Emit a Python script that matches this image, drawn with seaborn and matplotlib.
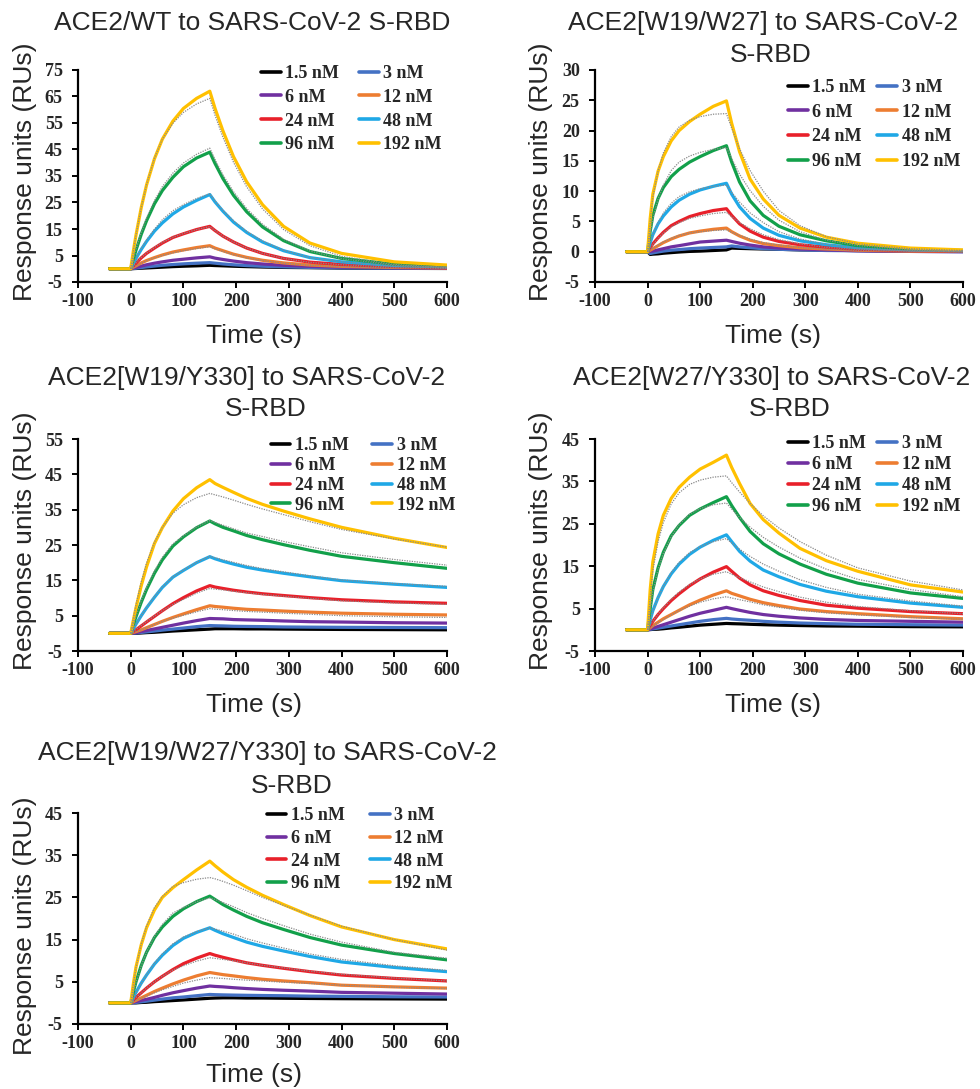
import matplotlib
matplotlib.use("Agg")
import pandas as pd
import matplotlib.pyplot as plt
import seaborn as sns

# ---- data (response units) ----
TIME = [-40, 0, 5, 10, 20, 30, 45, 60, 80, 100, 125, 150,
        160, 175, 195, 220, 250, 290, 340, 400, 500, 600]
FIT_TIME = TIME[1:]

CONCS = ["1.5 nM", "3 nM", "6 nM", "12 nM", "24 nM", "48 nM", "96 nM", "192 nM"]
FIT_CONCS = CONCS[3:]
COLORS = ["#000000", "#4472C4", "#7030A0", "#ED7D31", "#E8202A", "#1FA8E6", "#12A04A", "#FFC000"]

WT_RU = [
    [0, 0, 0.05, 0.1, 0.2, 0.3, 0.45, 0.6, 0.8, 0.95, 1.1, 1.3, 1.2, 1.1, 0.95, 0.8, 0.65, 0.5, 0.4, 0.25, 0.15, 0.1],
    [0, 0, 0.1, 0.2, 0.45, 0.7, 1.0, 1.3, 1.6, 1.85, 2.1, 2.3, 2.1, 1.8, 1.5, 1.2, 0.95, 0.7, 0.5, 0.35, 0.2, 0.15],
    [0, 0, 0.25, 0.5, 1.0, 1.5, 2.1, 2.6, 3.2, 3.6, 4.1, 4.5, 4.0, 3.5, 2.9, 2.3, 1.8, 1.3, 0.9, 0.6, 0.35, 0.2],
    [0, 0, 0.6, 1.1, 2.2, 3.1, 4.2, 5.2, 6.3, 7.1, 8.0, 8.7, 7.8, 6.8, 5.5, 4.3, 3.2, 2.2, 1.4, 0.9, 0.5, 0.3],
    [0, 0, 1.1, 2.1, 4.1, 5.8, 7.8, 9.7, 11.8, 13.2, 14.8, 16.0, 14.4, 12.3, 10.1, 7.8, 5.8, 3.9, 2.5, 1.6, 0.8, 0.4],
    [0, 0, 2.0, 3.9, 7.3, 10.3, 14.2, 17.3, 20.7, 23.3, 25.8, 28.0, 25.2, 21.7, 17.6, 13.7, 10.1, 6.8, 4.2, 2.6, 1.2, 0.7],
    [0, 0, 3.7, 7.0, 13.0, 18.1, 24.5, 29.5, 34.5, 38.5, 41.8, 44.0, 39.7, 34.0, 27.7, 21.5, 15.8, 10.6, 6.5, 3.9, 1.7, 0.9],
    [0, 0, 6.7, 12.7, 23.1, 31.6, 41.5, 48.9, 55.7, 60.5, 64.3, 67.0, 60.5, 52.0, 42.3, 32.8, 24.2, 16.0, 9.7, 5.8, 2.6, 1.4],
]
WT_FIT = [
    [0, 0.55, 1.1, 2.1, 3.0, 4.1, 5.0, 6.0, 6.8, 7.6, 8.3, 7.5, 6.5, 5.3, 4.1, 3.1, 2.1, 1.3, 0.8, 0.3, 0.15],
    [0, 1.1, 2.2, 4.2, 5.9, 8.0, 9.9, 11.9, 13.3, 14.8, 15.9, 14.4, 12.3, 10.1, 7.8, 5.8, 3.9, 2.4, 1.5, 0.6, 0.3],
    [0, 2.1, 4.1, 7.6, 10.8, 14.9, 18.5, 21.9, 24.2, 26.5, 28.3, 25.6, 22.0, 18.1, 14.1, 10.5, 7.0, 4.2, 2.6, 1.1, 0.5],
    [0, 3.9, 7.4, 13.7, 19.1, 25.7, 31.0, 36.1, 39.9, 43.2, 45.5, 41.2, 35.4, 29.1, 22.7, 16.8, 11.1, 6.7, 3.8, 1.4, 0.5],
    [0, 6.7, 12.7, 23.1, 31.7, 41.7, 48.9, 54.9, 59.0, 62.2, 64.3, 57.9, 49.6, 40.2, 30.9, 22.6, 14.8, 8.7, 4.7, 1.6, 0.6],
]

W19W27_RU = [
    [0, 0, -0.45, -0.4, -0.35, -0.25, -0.15, -0.05, 0.05, 0.1, 0.2, 0.3, 0.6, 0.55, 0.5, 0.45, 0.4, 0.3, 0.25, 0.2, 0.1, 0.05],
    [0, 0, -0.3, -0.2, -0.05, 0.1, 0.25, 0.35, 0.5, 0.6, 0.7, 0.8, 0.95, 0.8, 0.65, 0.5, 0.4, 0.3, 0.2, 0.15, 0.05, 0.0],
    [0, 0, 0.05, 0.1, 0.3, 0.5, 0.8, 1.0, 1.3, 1.6, 1.75, 1.9, 1.7, 1.4, 1.1, 0.8, 0.6, 0.45, 0.3, 0.15, 0.05, 0.0],
    [0, 0, 0.25, 0.5, 1.0, 1.5, 2.1, 2.6, 3.1, 3.4, 3.7, 3.9, 3.3, 2.6, 1.9, 1.35, 1.0, 0.65, 0.45, 0.25, 0.1, 0.05],
    [0, 0, 0.7, 1.3, 2.3, 3.2, 4.3, 5.0, 5.8, 6.3, 6.8, 7.1, 6.0, 4.6, 3.4, 2.4, 1.7, 1.15, 0.75, 0.4, 0.2, 0.1],
    [0, 0, 1.5, 2.8, 4.6, 5.9, 7.4, 8.5, 9.5, 10.2, 10.8, 11.3, 9.5, 7.4, 5.5, 3.9, 2.7, 1.8, 1.15, 0.65, 0.3, 0.15],
    [0, 0, 3.4, 6.0, 8.8, 10.6, 12.4, 13.6, 14.8, 15.7, 16.7, 17.5, 14.8, 11.5, 8.4, 6.0, 4.2, 2.8, 1.8, 1.0, 0.45, 0.2],
    [0, 0, 5.5, 9.5, 13.3, 15.7, 18.3, 20.0, 21.5, 22.7, 24.0, 24.9, 21.2, 16.5, 12.0, 8.7, 6.0, 3.9, 2.4, 1.4, 0.6, 0.3],
]
W19W27_FIT = [
    [0, 0.3, 0.6, 1.1, 1.6, 2.2, 2.7, 3.1, 3.3, 3.5, 3.6, 3.2, 2.7, 2.1, 1.5, 1.1, 0.7, 0.4, 0.2, 0.1, 0.0],
    [0, 0.6, 1.2, 2.2, 3.1, 4.1, 4.8, 5.5, 5.9, 6.3, 6.5, 5.8, 4.8, 3.8, 2.8, 2.0, 1.3, 0.7, 0.4, 0.1, 0.05],
    [0, 1.5, 2.8, 4.8, 6.4, 8.0, 9.1, 9.9, 10.4, 10.8, 11.0, 9.8, 8.2, 6.4, 4.8, 3.3, 2.1, 1.2, 0.6, 0.2, 0.1],
    [0, 3.0, 5.5, 8.7, 11.0, 13.4, 14.8, 15.8, 16.4, 16.9, 17.2, 15.4, 12.8, 10.1, 7.5, 5.2, 3.3, 1.9, 1.0, 0.35, 0.1],
    [0, 5.0, 9.0, 13.3, 16.3, 19.0, 20.6, 21.7, 22.3, 22.7, 22.8, 20.4, 17.0, 13.4, 10.0, 6.8, 4.3, 2.5, 1.3, 0.5, 0.2],
]

W19Y330_RU = [
    [0, 0, 0.0, 0.0, 0.1, 0.2, 0.3, 0.45, 0.65, 0.8, 1.0, 1.2, 1.3, 1.3, 1.3, 1.25, 1.25, 1.2, 1.15, 1.1, 1.05, 1.0],
    [0, 0, 0.05, 0.1, 0.25, 0.4, 0.65, 0.9, 1.2, 1.5, 1.9, 2.2, 2.15, 2.1, 2.0, 1.95, 1.9, 1.8, 1.75, 1.7, 1.65, 1.6],
    [0, 0, 0.1, 0.2, 0.5, 0.8, 1.25, 1.7, 2.3, 2.9, 3.6, 4.2, 4.15, 4.1, 3.9, 3.8, 3.7, 3.5, 3.3, 3.2, 3.0, 2.9],
    [0, 0, 0.25, 0.5, 1.0, 1.6, 2.5, 3.4, 4.5, 5.5, 6.7, 7.8, 7.6, 7.4, 7.1, 6.8, 6.6, 6.3, 6.0, 5.7, 5.4, 5.2],
    [0, 0, 0.5, 1.0, 2.1, 3.2, 4.8, 6.4, 8.4, 10.1, 12.0, 13.5, 13.1, 12.7, 12.2, 11.7, 11.2, 10.7, 10.1, 9.5, 8.9, 8.5],
    [0, 0, 1.3, 2.6, 5.0, 7.2, 10.2, 13.0, 15.9, 17.8, 20.0, 21.7, 21.1, 20.4, 19.6, 18.7, 17.9, 17.0, 16.0, 14.9, 13.9, 13.0],
    [0, 0, 2.5, 4.7, 8.8, 12.4, 17.0, 20.8, 24.7, 27.3, 29.9, 31.8, 31.0, 30.0, 29.0, 27.7, 26.5, 25.1, 23.5, 21.8, 20.0, 18.4],
    [0, 0, 3.7, 7.2, 13.5, 18.8, 25.4, 29.9, 34.6, 38.1, 41.2, 43.5, 42.4, 41.3, 39.9, 38.2, 36.5, 34.6, 32.4, 30.0, 26.9, 24.3],
]
W19Y330_FIT = [
    [0, 0.25, 0.5, 1.0, 1.6, 2.5, 3.3, 4.3, 5.1, 6.1, 7.0, 6.85, 6.7, 6.45, 6.2, 6.0, 5.7, 5.4, 5.0, 4.7, 4.5],
    [0, 0.55, 1.1, 2.2, 3.3, 4.9, 6.4, 8.2, 9.6, 11.4, 12.7, 12.5, 12.3, 11.9, 11.5, 11.0, 10.5, 9.9, 9.2, 8.6, 8.2],
    [0, 1.3, 2.6, 5.0, 7.3, 10.4, 13.1, 16.0, 17.9, 20.1, 21.8, 21.4, 20.8, 20.1, 19.2, 18.3, 17.4, 16.3, 15.1, 14.1, 13.3],
    [0, 2.6, 4.9, 9.2, 12.9, 17.6, 21.5, 25.3, 27.6, 30.1, 31.9, 31.4, 30.6, 29.6, 28.4, 27.4, 26.0, 24.5, 22.8, 20.9, 19.3],
    [0, 4.3, 8.1, 14.6, 19.9, 25.8, 30.0, 34.0, 36.4, 38.4, 39.6, 39.2, 38.6, 37.7, 36.5, 35.2, 33.6, 31.6, 29.4, 26.7, 24.4],
]

W27Y330_RU = [
    [0, 0, 0.05, 0.1, 0.15, 0.25, 0.45, 0.6, 0.85, 1.1, 1.3, 1.5, 1.45, 1.4, 1.3, 1.2, 1.1, 1.0, 0.9, 0.85, 0.75, 0.7],
    [0, 0, 0.1, 0.2, 0.4, 0.6, 0.9, 1.2, 1.6, 2.0, 2.4, 2.7, 2.55, 2.4, 2.25, 2.0, 1.8, 1.6, 1.45, 1.3, 1.2, 1.1],
    [0, 0, 0.2, 0.4, 0.8, 1.2, 1.8, 2.4, 3.2, 3.9, 4.6, 5.3, 5.0, 4.6, 4.1, 3.6, 3.2, 2.8, 2.45, 2.2, 2.0, 1.8],
    [0, 0, 0.5, 1.0, 1.8, 2.6, 3.6, 4.6, 5.9, 7.0, 8.2, 9.2, 8.6, 8.0, 7.2, 6.4, 5.7, 4.9, 4.3, 3.8, 3.1, 2.6],
    [0, 0, 1.0, 2.0, 3.6, 5.0, 6.9, 8.5, 10.4, 12.0, 13.6, 14.9, 13.8, 12.2, 10.6, 9.2, 8.1, 6.9, 5.8, 5.1, 4.3, 3.8],
    [0, 0, 2.3, 4.5, 7.6, 10.2, 13.2, 15.5, 17.8, 19.5, 21.1, 22.4, 20.8, 18.5, 16.2, 14.1, 12.5, 10.7, 9.1, 7.8, 6.3, 5.3],
    [0, 0, 5.0, 9.5, 14.6, 18.3, 22.2, 24.6, 27.0, 28.5, 30.0, 31.4, 29.3, 26.5, 23.2, 20.3, 17.9, 15.5, 13.1, 11.0, 8.7, 7.4],
    [0, 0, 9.5, 16.0, 22.6, 27.0, 31.0, 33.6, 36.0, 37.9, 39.5, 41.2, 38.3, 34.5, 29.8, 26.0, 22.8, 19.2, 16.3, 13.8, 10.6, 8.9],
]
W27Y330_FIT = [
    [0, 0.45, 0.9, 1.7, 2.4, 3.5, 4.5, 5.6, 6.5, 7.3, 7.8, 7.5, 7.1, 6.6, 5.9, 5.3, 4.6, 4.0, 3.5, 2.9, 2.5],
    [0, 1.0, 2.0, 3.7, 5.2, 7.2, 8.9, 10.7, 12.0, 13.1, 13.7, 13.1, 12.3, 11.3, 10.1, 9.0, 7.7, 6.5, 5.5, 4.5, 3.8],
    [0, 2.2, 4.3, 7.6, 10.3, 13.5, 15.9, 18.2, 19.6, 20.8, 21.5, 20.5, 19.0, 17.3, 15.5, 13.8, 11.8, 10.0, 8.4, 6.8, 5.6],
    [0, 4.8, 9.0, 14.3, 18.0, 22.0, 24.8, 27.3, 28.6, 29.5, 29.9, 28.5, 26.5, 24.2, 21.8, 19.5, 16.9, 14.3, 11.9, 9.5, 7.8],
    [0, 7.8, 14.0, 20.8, 25.3, 29.7, 32.3, 34.3, 35.3, 36.0, 36.3, 34.7, 32.5, 29.8, 26.9, 24.0, 20.8, 17.6, 14.6, 11.5, 9.4],
]

TRIPLE_RU = [
    [0, 0, 0.0, 0.0, 0.1, 0.15, 0.3, 0.4, 0.55, 0.7, 0.9, 1.1, 1.15, 1.2, 1.2, 1.15, 1.15, 1.1, 1.05, 1.0, 0.95, 0.9],
    [0, 0, 0.05, 0.1, 0.25, 0.4, 0.65, 0.9, 1.2, 1.4, 1.7, 2.0, 1.95, 1.9, 1.85, 1.8, 1.75, 1.7, 1.6, 1.55, 1.45, 1.4],
    [0, 0, 0.15, 0.3, 0.6, 0.85, 1.3, 1.8, 2.4, 2.9, 3.5, 4.0, 3.9, 3.8, 3.6, 3.4, 3.2, 3.0, 2.8, 2.5, 2.3, 2.1],
    [0, 0, 0.3, 0.6, 1.2, 1.8, 2.7, 3.5, 4.5, 5.4, 6.4, 7.2, 7.0, 6.7, 6.4, 6.0, 5.6, 5.2, 4.8, 4.2, 3.8, 3.5],
    [0, 0, 0.65, 1.3, 2.4, 3.5, 5.0, 6.3, 7.9, 9.3, 10.6, 11.7, 11.3, 10.8, 10.2, 9.5, 8.9, 8.2, 7.4, 6.6, 5.8, 5.2],
    [0, 0, 1.3, 2.5, 4.7, 6.6, 9.2, 11.3, 13.6, 15.3, 16.7, 17.8, 17.2, 16.4, 15.5, 14.4, 13.4, 12.3, 11.0, 9.7, 8.4, 7.4],
    [0, 0, 2.6, 5.0, 8.9, 12.0, 15.5, 18.0, 20.5, 22.3, 24.0, 25.3, 24.5, 23.3, 22.0, 20.5, 19.0, 17.4, 15.5, 13.7, 11.7, 10.2],
    [0, 0, 4.5, 8.5, 13.8, 17.8, 22.0, 25.0, 27.3, 29.2, 31.5, 33.6, 32.5, 31.0, 29.2, 27.4, 25.5, 23.3, 20.7, 18.0, 15.0, 12.8],
]
TRIPLE_FIT = [
    [0, 0.3, 0.6, 1.1, 1.6, 2.4, 3.1, 3.9, 4.7, 5.4, 6.0, 5.9, 5.8, 5.6, 5.4, 5.2, 4.9, 4.6, 4.2, 3.7, 3.4],
    [0, 0.65, 1.3, 2.4, 3.5, 5.0, 6.3, 7.8, 8.8, 9.9, 10.7, 10.55, 10.3, 10.0, 9.5, 8.9, 8.3, 7.5, 6.8, 5.9, 5.2],
    [0, 1.2, 2.4, 4.6, 6.7, 9.4, 11.6, 14.0, 15.6, 16.9, 17.8, 17.5, 17.0, 16.3, 15.2, 14.2, 13.0, 11.6, 10.3, 8.8, 7.7],
    [0, 2.5, 4.8, 8.8, 12.0, 15.8, 18.6, 21.3, 22.6, 24.0, 24.9, 24.5, 23.8, 22.8, 21.4, 20.0, 18.3, 16.3, 14.4, 12.0, 10.6],
    [0, 4.4, 8.3, 14.0, 18.2, 22.6, 25.2, 27.6, 28.5, 29.3, 29.7, 29.4, 28.8, 27.9, 26.6, 25.0, 23.1, 20.8, 18.2, 15.0, 12.5],
]

# ---- layout (pixel boxes measured on the 980x1089 page) ----
W, H = 980, 1089
PANELS = [
    dict(ru=WT_RU, fit=WT_FIT, box=(78, 70, 447, 282), yticks=range(-5, 76, 10),
         title=[("ACE2/WT to SARS-CoV-2 S-RBD", 252, 30)],
         xlab=(254, 343), ylab=(25, 172), leg=(0.986, 1.024, 0.38, 1.1)),
    dict(ru=W19W27_RU, fit=W19W27_FIT, box=(595, 70, 963, 282), yticks=range(-5, 31, 5),
         title=[("ACE2[W19/W27] to SARS-CoV-2", 763, 30), ("S-RBD", 771, 62)],
         xlab=(773, 343), ylab=(541, 172), leg=(0.992, 0.958, 0.43, 0.6)),
    dict(ru=W19Y330_RU, fit=W19Y330_FIT, box=(78, 439, 447, 651), yticks=range(-5, 56, 10),
         title=[("ACE2[W19/Y330] to SARS-CoV-2", 247, 385), ("S-RBD", 266, 416)],
         xlab=(254, 712), ylab=(25, 541), leg=(1.022, 1.009, 0.16, 1.3)),
    dict(ru=W27Y330_RU, fit=W27Y330_FIT, box=(595, 439, 963, 651), yticks=range(-5, 46, 10),
         title=[("ACE2[W27/Y330] to SARS-CoV-2", 772, 385), ("S-RBD", 790, 416)],
         xlab=(773, 712), ylab=(541, 541), leg=(0.992, 1.019, 0.23, 0.6)),
    dict(ru=TRIPLE_RU, fit=TRIPLE_FIT, box=(78, 813, 447, 1024), yticks=range(-5, 46, 10),
         title=[("ACE2[W19/W27/Y330] to SARS-CoV-2", 267, 760), ("S-RBD", 292, 793)],
         xlab=(254, 1082), ylab=(25, 926), leg=(1.016, 1.028, 0.32, 1.4)),
]


def long_frame(times, curves, labels):
    rows = []
    for lab, vals in zip(labels, curves):
        for t, v in zip(times, vals):
            rows.append({"time": t, "ru": v, "conc": lab})
    return pd.DataFrame(rows)


sns.set_theme(style="white")
plt.rcParams["font.family"] = ["Liberation Sans", "DejaVu Sans"]
plt.rcParams["axes.unicode_minus"] = False

fig = plt.figure(figsize=(W / 100, H / 100), dpi=100)
palette = dict(zip(CONCS, COLORS))

for p in PANELS:
    l, t, r, b = p["box"]
    ax = fig.add_axes([l / W, 1 - b / H, (r - l) / W, (b - t) / H])

    df = long_frame(TIME, p["ru"], CONCS)
    sns.lineplot(data=df, x="time", y="ru", hue="conc", hue_order=CONCS, palette=palette,
                 estimator=None, sort=False, lw=2.3, ax=ax)
    fit_df = long_frame(FIT_TIME, p["fit"], FIT_CONCS)
    sns.lineplot(data=fit_df, x="time", y="ru", units="conc", estimator=None, sort=False,
                 color="#8a8a8a", lw=0.9, linestyle=(0, (1, 1)), legend=False, ax=ax, zorder=3)

    yt = list(p["yticks"])
    ax.set_xlim(-100, 600)
    ax.set_ylim(yt[0], yt[-1])
    ax.set_xticks(range(-100, 601, 100))
    ax.set_yticks(yt)
    ax.set_xlabel("")
    ax.set_ylabel("")
    for s in ["top", "right"]:
        ax.spines[s].set_visible(False)
    for s in ["left", "bottom"]:
        ax.spines[s].set_linewidth(1.6)
        ax.spines[s].set_color("black")
    ax.tick_params(axis="both", direction="out", length=4, width=1.4, color="black",
                   labelsize=13, bottom=True, left=True)
    ax.tick_params(axis="y", pad=7)
    ax.tick_params(axis="x", pad=4)
    for lab in ax.get_xticklabels() + ax.get_yticklabels():
        lab.set_fontfamily("Liberation Serif")
        lab.set_fontweight("bold")

    # legend: rows read 1.5/3, 6/12, 24/48, 96/192
    handles, labels = ax.get_legend_handles_labels()
    order = [0, 2, 4, 6, 1, 3, 5, 7]
    lx, ly, lsp, csp = p["leg"]
    leg = ax.legend([handles[i] for i in order], [labels[i] for i in order], ncol=2,
                    loc="upper right", bbox_to_anchor=(lx, ly), frameon=False,
                    borderaxespad=0, borderpad=0, handlelength=1.1, handletextpad=0.25,
                    labelspacing=lsp, columnspacing=csp,
                    prop={"family": "Liberation Serif", "weight": "bold", "size": 13})
    for h in leg.get_lines():
        h.set_linewidth(2.6)

    for txt, x, y in p["title"]:
        fig.text(x / W, 1 - y / H, txt, ha="center", va="baseline", fontsize=19)
    fig.text(p["xlab"][0] / W, 1 - p["xlab"][1] / H, "Time (s)", ha="center",
             va="baseline", fontsize=19)
    fig.text(p["ylab"][0] / W, 1 - p["ylab"][1] / H, "Response units (RUs)", ha="center",
             va="center", rotation=90, fontsize=19)

fig.savefig("out.png", dpi=100)
